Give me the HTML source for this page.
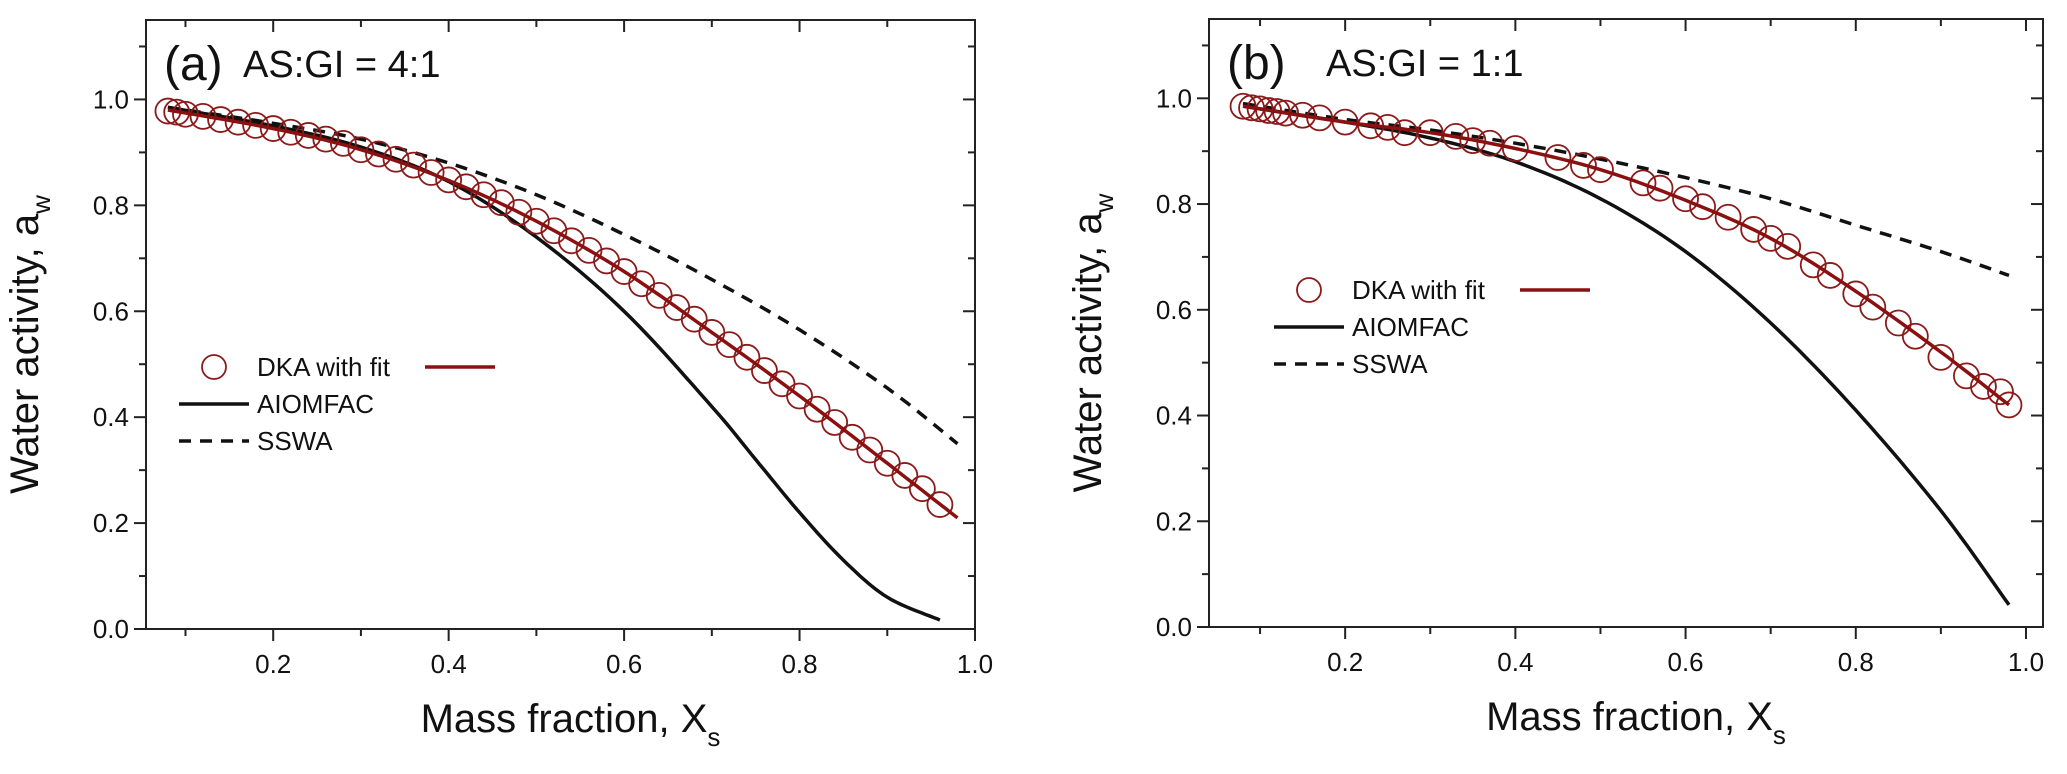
<!DOCTYPE html>
<html><head><meta charset="utf-8">
<style>
html,body{margin:0;padding:0;background:#fff;}
svg{display:block;font-family:"Liberation Sans",Arial,sans-serif;}
</style></head>
<body>
<svg id="chart" width="2067" height="774" viewBox="0 0 2067 774"></svg>
<script>
// Panel (a) AS:GI = 4:1
const fitXA = [0.08,0.2,0.3,0.4,0.5,0.6,0.7,0.8,0.9,0.98];
const fitYA = [0.98,0.945,0.905,0.847,0.77,0.675,0.56,0.44,0.313,0.21];
const aioXA = [0.08,0.2,0.3,0.4,0.5,0.6,0.7,0.75,0.8,0.85,0.9,0.96];
const aioYA = [0.985,0.95,0.91,0.845,0.74,0.6,0.42,0.32,0.22,0.13,0.06,0.017];
const sswXA = [0.08,0.2,0.3,0.4,0.5,0.6,0.7,0.8,0.9,0.98];
const sswYA = [0.985,0.955,0.925,0.88,0.82,0.745,0.66,0.565,0.455,0.35];
const dkaXA = [0.08,0.09,0.10,0.12,0.14,0.16,0.18,0.20,0.22,0.24,0.26,0.28,0.30,0.32,0.34,0.36,0.38,0.40,0.42,0.44,0.46,0.48,0.50,0.52,0.54,0.56,0.58,0.60,0.62,0.64,0.66,0.68,0.70,0.72,0.74,0.76,0.78,0.80,0.82,0.84,0.86,0.88,0.90,0.92,0.94,0.96];
const dkaYA = [0.978,0.976,0.972,0.968,0.962,0.957,0.951,0.945,0.938,0.932,0.925,0.917,0.905,0.897,0.887,0.876,0.862,0.848,0.835,0.82,0.805,0.787,0.77,0.752,0.733,0.715,0.695,0.675,0.652,0.63,0.607,0.585,0.56,0.537,0.513,0.488,0.463,0.44,0.415,0.39,0.362,0.338,0.313,0.29,0.265,0.235];
// Panel (b) AS:GI = 1:1
const fitXB = [0.08,0.2,0.3,0.4,0.5,0.6,0.7,0.8,0.9,0.98];
const fitYB = [0.985,0.955,0.935,0.905,0.865,0.807,0.735,0.635,0.52,0.42];
const aioXB = [0.08,0.2,0.3,0.4,0.5,0.6,0.7,0.8,0.9,0.98];
const aioYB = [0.985,0.955,0.925,0.88,0.81,0.71,0.575,0.41,0.22,0.042];
const sswXB = [0.08,0.2,0.3,0.4,0.5,0.6,0.7,0.8,0.9,0.98];
const sswYB = [0.99,0.96,0.94,0.915,0.885,0.85,0.81,0.76,0.71,0.665];
const dkaXB = [0.08,0.09,0.10,0.11,0.12,0.13,0.15,0.17,0.20,0.23,0.25,0.27,0.30,0.33,0.35,0.37,0.40,0.45,0.48,0.50,0.55,0.57,0.60,0.62,0.65,0.68,0.70,0.72,0.75,0.77,0.80,0.82,0.85,0.87,0.90,0.93,0.95,0.97,0.98];
const dkaYB = [0.985,0.982,0.98,0.977,0.975,0.972,0.968,0.963,0.955,0.948,0.945,0.935,0.935,0.928,0.92,0.915,0.905,0.888,0.873,0.865,0.84,0.83,0.81,0.795,0.775,0.752,0.735,0.72,0.685,0.665,0.63,0.605,0.575,0.55,0.51,0.475,0.455,0.445,0.42];
const xTickLabels = ["0.2","0.4","0.6","0.8","1.0"];
const yTickLabels = ["0.0","0.2","0.4","0.6","0.8","1.0"];

const NS = "http://www.w3.org/2000/svg";
const svg = document.getElementById("chart");
function mk(tag, attrs, parent){
  const e = document.createElementNS(NS, tag);
  for (const k in attrs) e.setAttribute(k, attrs[k]);
  (parent||svg).appendChild(e);
  return e;
}
function interp(xs, ys, n){
  const pts=[];
  for(let i=0;i<xs.length-1;i++){
    const x0=xs[Math.max(i-1,0)],y0=ys[Math.max(i-1,0)];
    const x1=xs[i],y1=ys[i],x2=xs[i+1],y2=ys[i+1];
    const x3=xs[Math.min(i+2,xs.length-1)],y3=ys[Math.min(i+2,xs.length-1)];
    for(let s=0;s<n;s++){
      const t=s/n,t2=t*t,t3=t2*t;
      const f=(p0,p1,p2,p3)=>0.5*((2*p1)+(-p0+p2)*t+(2*p0-5*p1+4*p2-p3)*t2+(-p0+3*p1-3*p2+p3)*t3);
      pts.push([f(x0,x1,x2,x3),f(y0,y1,y2,y3)]);
    }
  }
  pts.push([xs[xs.length-1],ys[ys.length-1]]);
  return pts;
}

function panel(cfg){
  const g = mk("g",{});
  
  
  const X = v => cfg.L + (v-cfg.xmin)/(cfg.xmax-cfg.xmin)*(cfg.R-cfg.L);
  const Y = v => cfg.B - (v-0)/(cfg.ymax-0)*(cfg.B-cfg.T);
  const fr = mk("rect",{x:cfg.L,y:cfg.T,width:cfg.R-cfg.L,height:cfg.B-cfg.T,fill:"none",stroke:"#222","stroke-width":2},g);
  
  
  for(let k=1;k<=10;k++){
    const v=k/10; if(v<cfg.xmin||v>cfg.xmax+1e-9) continue;
    const major = k%2===0, len = major?12:7, x=X(v);
    mk("line",{x1:x,y1:cfg.B,x2:x,y2:cfg.B+len,stroke:"#222","stroke-width":2},g);
    mk("line",{x1:x,y1:cfg.T,x2:x,y2:cfg.T+len,stroke:"#222","stroke-width":2},g);
  }
  xTickLabels.forEach(s=>{
    const t=mk("text",{x:X(parseFloat(s)),y:cfg.B+44,"text-anchor":"middle","font-size":26,fill:"#111"},g);
    t.textContent=s;
    
    
  });
  for(let k=0;k<=11;k++){
    const v=k/10, major=k%2===0, len=major?12:7, y=Y(v);
    mk("line",{x1:cfg.L,y1:y,x2:cfg.L-len,y2:y,stroke:"#222","stroke-width":2},g);
    mk("line",{x1:cfg.R,y1:y,x2:cfg.R-len,y2:y,stroke:"#222","stroke-width":2},g);
  }
  yTickLabels.forEach(s=>{
    const t=mk("text",{x:cfg.L-17,y:Y(parseFloat(s))+9,"text-anchor":"end","font-size":26,fill:"#111"},g);
    t.textContent=s;
    
    
  });
  const xt=mk("text",{x:(cfg.L+cfg.R)/2+10,y:cfg.B+103,"text-anchor":"middle","font-size":40,fill:"#111"},g);
  xt.innerHTML='Mass fraction, X<tspan font-size="26" dy="14">s</tspan>';
  
  
  const cy=(cfg.T+cfg.B)/2+20, cx=cfg.L-108;
  const yt=mk("text",{x:cx,y:cy,"text-anchor":"middle","font-size":40,fill:"#111",transform:`rotate(-90 ${cx} ${cy})`,dy:0},g);
  yt.innerHTML='Water activity, a<tspan font-size="26" dy="12">w</tspan>';
  
  
  const pt=mk("text",{x:cfg.L+cfg.labelDx,y:cfg.T+60,"font-size":48,fill:"#111"},g);
  pt.textContent=cfg.label;
  
  
  const rt=mk("text",{x:cfg.L+cfg.ratioDx,y:cfg.T+57,"font-size":38,fill:"#111"},g);
  rt.textContent=cfg.ratio;
  
  
  const path=(xs,ys)=>interp(xs,ys,12).map((p,i)=>(i?"L":"M")+X(p[0]).toFixed(1)+","+Y(p[1]).toFixed(1)).join("");
  const sw=mk("path",{d:path(cfg.sswX,cfg.sswY),fill:"none",stroke:"#111","stroke-width":3.5,"stroke-dasharray":"12,9"},g);
  
  
  const ai=mk("path",{d:path(cfg.aioX,cfg.aioY),fill:"none",stroke:"#111","stroke-width":3.5},g);
  
  
  cfg.dkaX.forEach((xv,i)=>{
    const c=mk("circle",{cx:X(xv),cy:Y(cfg.dkaY[i]),r:12.5,fill:"none",stroke:"#8b1a1a","stroke-width":1.8},g);
    
    
  });
  const ft=mk("path",{d:path(cfg.fitX,cfg.fitY),fill:"none",stroke:"#8b1010","stroke-width":3.5},g);
  
  
  const lg=mk("g",{},g);
  
  
  const lx=cfg.legX, ly=cfg.legY;
  const e1=mk("circle",{cx:lx+35,cy:ly,r:12,fill:"none",stroke:"#8b1a1a","stroke-width":1.8},lg);
  
  
  const t1=mk("text",{x:lx+78,y:ly+9,"font-size":26,fill:"#111"},lg); t1.textContent="DKA with fit";
  
  
  const f1=mk("line",{x1:lx+246,y1:ly,x2:lx+316,y2:ly,stroke:"#8b1010","stroke-width":3.5},lg);
  
  
  mk("line",{x1:lx,y1:ly+37,x2:lx+70,y2:ly+37,stroke:"#111","stroke-width":3.5},lg);
  const t2=mk("text",{x:lx+78,y:ly+46,"font-size":26,fill:"#111"},lg); t2.textContent="AIOMFAC";
  
  
  mk("line",{x1:lx,y1:ly+74,x2:lx+70,y2:ly+74,stroke:"#111","stroke-width":3.5,"stroke-dasharray":"12,9"},lg);
  const t3=mk("text",{x:lx+78,y:ly+83,"font-size":26,fill:"#111"},lg); t3.textContent="SSWA";
  
  
}

panel({name:"panel-a",L:146,R:975,T:20,B:629,xmin:0.055,xmax:1.0,ymax:1.15,label:"(a)",labelDx:18,ratio:"AS:GI = 4:1",ratioDx:97,
  fitX:fitXA,fitY:fitYA,aioX:aioXA,aioY:aioYA,sswX:sswXA,sswY:sswYA,dkaX:dkaXA,dkaY:dkaYA,legX:179,legY:367});
panel({name:"panel-b",L:1209,R:2043,T:19,B:627,xmin:0.04,xmax:1.02,ymax:1.15,label:"(b)",labelDx:18,ratio:"AS:GI = 1:1",ratioDx:117,
  fitX:fitXB,fitY:fitYB,aioX:aioXB,aioY:aioYB,sswX:sswXB,sswY:sswYB,dkaX:dkaXB,dkaY:dkaYB,legX:1274,legY:290});
</script>
</body></html>
